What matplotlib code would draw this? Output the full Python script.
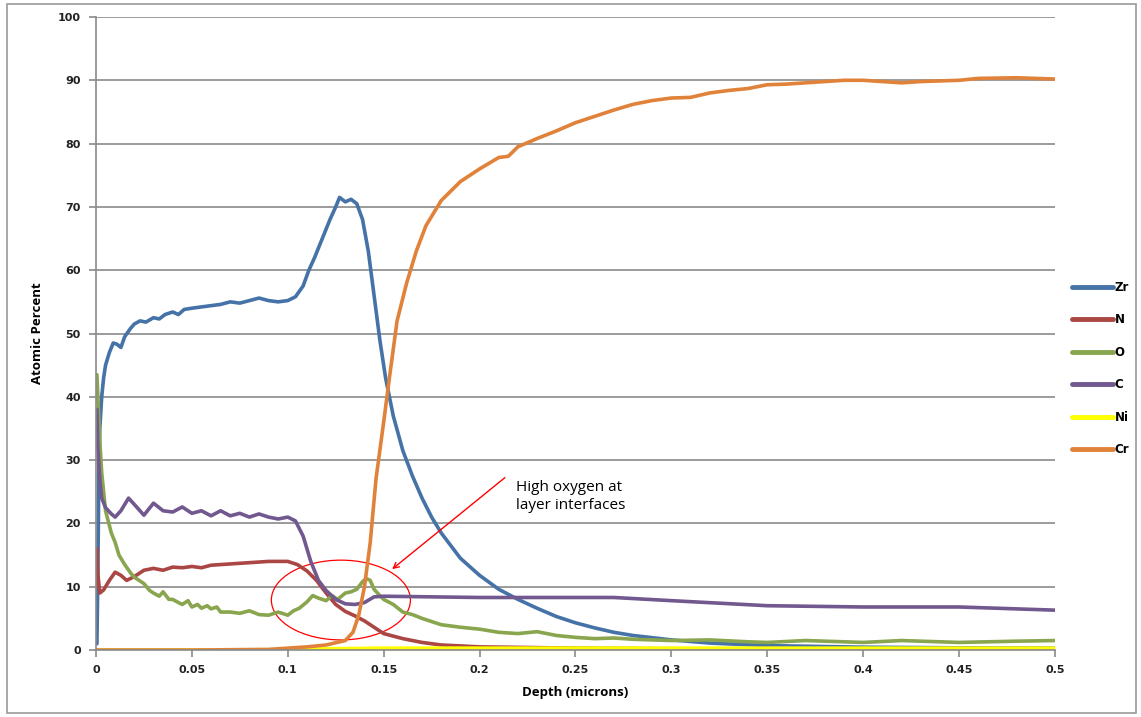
import matplotlib
matplotlib.use("Agg")
import matplotlib.pyplot as plt
from matplotlib.patches import Ellipse, Rectangle

# Depth profile values (depth in microns, atomic %)
zr_x = [0.0005, 0.001, 0.0015, 0.002, 0.003, 0.004, 0.005, 0.007, 0.009, 0.011, 0.013,
        0.015, 0.018, 0.02, 0.023, 0.026, 0.03, 0.033, 0.036, 0.04, 0.043, 0.046, 0.05,
        0.055, 0.06, 0.065, 0.07, 0.075, 0.08, 0.085, 0.09, 0.095, 0.1, 0.104, 0.108,
        0.111, 0.114, 0.118, 0.122, 0.125, 0.127, 0.13, 0.133, 0.136, 0.139, 0.142,
        0.145, 0.148, 0.151, 0.155, 0.16, 0.165, 0.17, 0.175, 0.18, 0.19, 0.2, 0.21,
        0.22, 0.23, 0.24, 0.25, 0.26, 0.27, 0.28, 0.3, 0.32, 0.35, 0.4, 0.45, 0.5]
zr_y = [1.0, 12.0, 28.0, 35.0, 40.0, 43.0, 45.0, 47.0, 48.5, 48.3, 47.8,
        49.5, 50.8, 51.5, 52.0, 51.8, 52.5, 52.3, 53.0, 53.4, 53.0, 53.8, 54.0,
        54.2, 54.4, 54.6, 55.0, 54.8, 55.2, 55.6, 55.2, 55.0, 55.2, 55.8, 57.5,
        60.0, 62.0, 65.0, 68.0, 70.0, 71.5, 70.8, 71.2, 70.5, 68.0, 63.0,
        56.0, 49.0, 43.0, 37.0, 31.5, 27.5, 24.0, 21.0, 18.5, 14.5, 11.8, 9.6,
        8.0, 6.6, 5.3, 4.3, 3.5, 2.8, 2.3, 1.6, 1.1, 0.7, 0.45, 0.35, 0.3]

n_x = [0.0, 0.0005, 0.001, 0.002, 0.004, 0.007, 0.01, 0.013, 0.016, 0.02, 0.025,
       0.03, 0.035, 0.04, 0.045, 0.05, 0.055, 0.06, 0.07, 0.08, 0.09, 0.1, 0.105,
       0.11, 0.115, 0.12, 0.125, 0.13, 0.135, 0.14, 0.145, 0.15, 0.16, 0.17, 0.18,
       0.2, 0.25, 0.3, 0.4, 0.5]
n_y = [10.0, 16.0, 12.0, 9.0, 9.5, 11.0, 12.3, 11.8, 11.0, 11.6, 12.6,
       12.9, 12.6, 13.1, 13.0, 13.2, 13.0, 13.4, 13.6, 13.8, 14.0, 14.0, 13.5,
       12.5, 11.0, 9.0, 7.2, 6.1, 5.4, 4.6, 3.6, 2.6, 1.8, 1.2, 0.8,
       0.5, 0.3, 0.2, 0.1, 0.1]

o_x = [0.0005, 0.001, 0.002, 0.003, 0.005, 0.008, 0.01, 0.012, 0.015, 0.018, 0.02,
       0.025, 0.028, 0.03, 0.033, 0.035, 0.038, 0.04, 0.043, 0.045, 0.048, 0.05,
       0.053, 0.055, 0.058, 0.06, 0.063, 0.065, 0.07, 0.075, 0.08, 0.085, 0.09,
       0.095, 0.1, 0.103, 0.106, 0.11, 0.113, 0.116, 0.12, 0.123, 0.126, 0.13,
       0.133, 0.136, 0.139, 0.141, 0.143, 0.145, 0.148, 0.15, 0.155, 0.16, 0.165,
       0.17, 0.175, 0.18, 0.19, 0.2, 0.21, 0.22, 0.23, 0.24, 0.25, 0.26, 0.27,
       0.28, 0.3, 0.32, 0.34, 0.35, 0.37, 0.4, 0.42, 0.44, 0.45, 0.48, 0.5]
o_y = [43.5, 40.0, 33.0, 28.0, 22.0, 18.5, 17.0, 15.0, 13.5, 12.2, 11.5,
       10.5, 9.4, 9.0, 8.5, 9.2, 8.0, 8.0, 7.5, 7.2, 7.8, 6.8,
       7.2, 6.6, 7.0, 6.5, 6.8, 6.0, 6.0, 5.8, 6.2, 5.6, 5.5,
       6.0, 5.5, 6.2, 6.6, 7.6, 8.6, 8.2, 7.8, 8.6, 8.0, 9.0,
       9.2, 9.6, 10.8, 11.3, 11.0, 9.6, 8.6, 8.0, 7.2, 6.0, 5.6,
       5.0, 4.5, 4.0, 3.6, 3.3, 2.8, 2.6, 2.9, 2.3, 2.0, 1.8, 1.9,
       1.7, 1.5, 1.6, 1.3, 1.2, 1.5, 1.2, 1.5, 1.3, 1.2, 1.4, 1.5]

c_x = [0.0005, 0.001, 0.002, 0.003, 0.005, 0.008, 0.01, 0.013, 0.017, 0.02, 0.025,
       0.03, 0.035, 0.04, 0.045, 0.05, 0.055, 0.06, 0.065, 0.07, 0.075, 0.08,
       0.085, 0.09, 0.095, 0.1, 0.104, 0.108, 0.112, 0.116, 0.12, 0.125, 0.13,
       0.135, 0.14, 0.145, 0.15, 0.2, 0.25, 0.27, 0.3, 0.35, 0.4, 0.45, 0.5]
c_y = [38.0, 32.0, 27.0, 24.0, 22.5, 21.5, 21.0, 22.0, 24.0, 23.0, 21.3,
       23.2, 22.0, 21.8, 22.6, 21.6, 22.0, 21.2, 22.0, 21.2, 21.6, 21.0,
       21.5, 21.0, 20.7, 21.0, 20.4, 18.0, 14.0, 11.0, 9.4, 8.0, 7.3,
       7.2, 7.5, 8.4, 8.5, 8.3, 8.3, 8.3, 7.8, 7.0, 6.8, 6.8, 6.3]

ni_x = [0.0, 0.1, 0.12, 0.15, 0.2, 0.5]
ni_y = [0.0, 0.05, 0.2, 0.3, 0.3, 0.3]

cr_x = [0.0, 0.05, 0.09, 0.1, 0.11, 0.12, 0.13, 0.134, 0.137, 0.14, 0.143, 0.146,
        0.15, 0.153, 0.157, 0.162, 0.167, 0.172, 0.18, 0.19, 0.2, 0.21, 0.215,
        0.22, 0.23, 0.24, 0.25, 0.26, 0.27, 0.28, 0.29, 0.3, 0.31, 0.32, 0.33,
        0.34, 0.35, 0.36, 0.37, 0.38, 0.39, 0.4, 0.42, 0.43, 0.45, 0.46, 0.48, 0.5]
cr_y = [0.0, 0.0, 0.1, 0.3, 0.5, 0.8, 1.5, 2.8, 5.5, 10.0, 17.0, 27.0,
        36.0, 43.0, 52.0, 58.0, 63.0, 67.0, 71.0, 74.0, 76.0, 77.8, 78.0,
        79.5, 80.8, 82.0, 83.3, 84.3, 85.3, 86.2, 86.8, 87.2, 87.3, 88.0, 88.4,
        88.7, 89.3, 89.4, 89.6, 89.8, 90.0, 90.0, 89.6, 89.8, 90.0, 90.3, 90.4, 90.2]

series = [("Zr", zr_x, zr_y, "#4572A7"),
          ("N", n_x, n_y, "#AA4643"),
          ("O", o_x, o_y, "#89A54E"),
          ("C", c_x, c_y, "#71588F"),
          ("Ni", ni_x, ni_y, "#FFFF00"),
          ("Cr", cr_x, cr_y, "#E0823A")]

y_ticks = list(range(0, 101, 10))
x_ticks = [0, 0.05, 0.1, 0.15, 0.2, 0.25, 0.3, 0.35, 0.4, 0.45, 0.5]
x_labels = ["0", "0.05", "0.1", "0.15", "0.2", "0.25", "0.3", "0.35", "0.4", "0.45", "0.5"]

fig = plt.figure(figsize=(11.41, 7.17), dpi=100)
ax = fig.add_axes([0.0841, 0.0934, 0.8405, 0.8829])

# outer chart border like the spreadsheet chart area
fig.patches.append(Rectangle((0.006, 0.006), 0.99, 0.988, transform=fig.transFigure,
                             fill=False, edgecolor="#9a9a9a", lw=1.2))

for name, xs, ys, col in series:
    ax.plot(xs, ys, color=col, lw=2.6, label=name, solid_capstyle="round")

ax.set_xlim(0, 0.5)
ax.set_ylim(0, 100)
ax.set_yticks(y_ticks)
ax.set_xticks(x_ticks)
ax.set_xticklabels(x_labels)
ax.yaxis.grid(True, color="#8a8a8a", lw=1.2)
ax.set_axisbelow(True)
for s in ["top", "right"]:
    ax.spines[s].set_visible(False)
for s in ["left", "bottom"]:
    ax.spines[s].set_color("#8a8a8a")
    ax.spines[s].set_linewidth(1.2)
ax.tick_params(axis="both", direction="out", length=5, color="#8a8a8a", width=1.2,
               labelsize=8, pad=6)
for lab in ax.get_xticklabels() + ax.get_yticklabels():
    lab.set_fontweight("bold")
    lab.set_color("#222222")

ax.set_xlabel("Depth (microns)", fontsize=9.5, fontweight="bold", family="Open Sans", labelpad=8)
ax.set_ylabel("Atomic Percent", fontsize=9.5, fontweight="bold", family="Open Sans", labelpad=10)

# highlight of oxygen peaks
ax.add_patch(Ellipse((0.1277, 7.9), 0.0725, 12.6, fill=False, edgecolor="red", lw=0.9))
ax.annotate("", xy=(0.1533, 12.5), xytext=(0.2143, 27.5),
            arrowprops=dict(arrowstyle="->", color="red", lw=1.0))
ax.text(0.219, 24.3, "High oxygen at\nlayer interfaces", fontsize=11, family="Open Sans",
        va="center", ha="left", linespacing=1.3)

leg = ax.legend(loc="upper left", bbox_to_anchor=(0.935, 0.615), bbox_transform=fig.transFigure,
                frameon=False, fontsize=8.5, handlelength=3.5, handletextpad=0.15,
                labelspacing=1.65, borderaxespad=0)
for t in leg.get_texts():
    t.set_fontweight("bold")
for h in leg.get_lines():
    h.set_linewidth(3.5)

fig.savefig("out.png", dpi=100)
